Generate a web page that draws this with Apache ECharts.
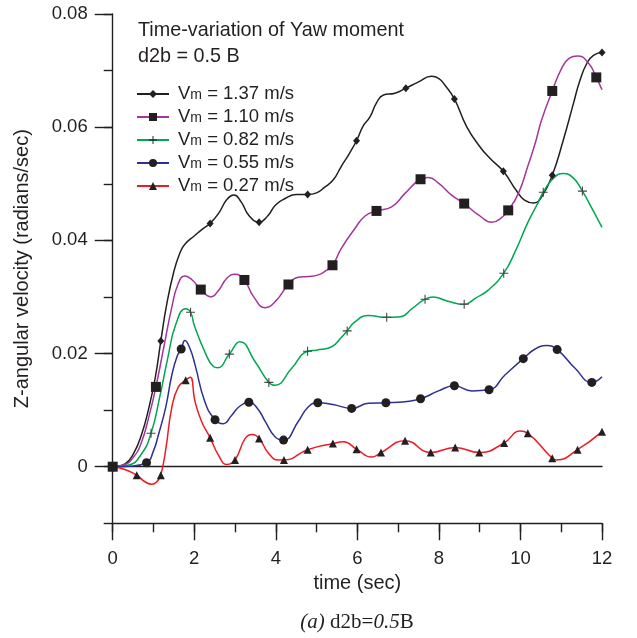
<!DOCTYPE html>
<html>
<head>
<meta charset="utf-8">
<script src="https://cdn.jsdelivr.net/npm/echarts@6/dist/echarts.min.js"></script>
<style>
  html, body { margin: 0; padding: 0; background: #fff; }
  #chart { width: 637px; height: 638px; }
</style>
</head>
<body>
<div id="chart"></div>
<script>
// legend labels
const seriesNames = ['Vm = 1.37 m/s', 'Vm = 1.10 m/s', 'Vm = 0.82 m/s', 'Vm = 0.55 m/s', 'Vm = 0.27 m/s'];
const xTicks = [0, 2, 4, 6, 8, 10, 12];
const yTicks = [0, 0.02, 0.04, 0.06, 0.08];

// curves, [time (sec), angular velocity]
const v137Curve = [[0,0],[0.3,0.0005],[0.5,0.0022],[0.7,0.0055],[0.9,0.0108],[1.05,0.016],[1.18,0.0222],[1.32,0.0285],[1.5,0.0345],[1.65,0.0378],[1.77,0.0393],[2.02,0.0409],[2.2,0.042],[2.39,0.043],[2.6,0.0448],[2.8,0.0472],[2.98,0.048],[3.15,0.0468],[3.35,0.0443],[3.59,0.0432],[3.8,0.0443],[4.0,0.0463],[4.23,0.0474],[4.5,0.0481],[4.78,0.0481],[5.0,0.0484],[5.2,0.0494],[5.41,0.0507],[5.6,0.053],[5.8,0.0553],[5.98,0.0576],[6.15,0.0603],[6.31,0.0618],[6.47,0.0643],[6.64,0.0657],[6.92,0.066],[7.19,0.0669],[7.5,0.068],[7.82,0.069],[8.0,0.0686],[8.15,0.0674],[8.38,0.065],[8.68,0.0601],[9.01,0.0565],[9.25,0.0545],[9.58,0.0522],[9.9,0.0488],[10.1,0.0471],[10.32,0.0466],[10.52,0.0477],[10.78,0.0515],[11.05,0.0577],[11.3,0.0642],[11.46,0.0683],[11.63,0.0713],[11.79,0.0727],[12,0.0732]];
const v110Curve = [[0,0],[0.3,0.0004],[0.5,0.0016],[0.7,0.0042],[0.9,0.0092],[1.06,0.0141],[1.25,0.021],[1.45,0.0282],[1.6,0.0322],[1.77,0.0337],[1.95,0.033],[2.16,0.0313],[2.41,0.03],[2.6,0.0312],[2.8,0.0333],[3.0,0.034],[3.23,0.033],[3.45,0.0301],[3.74,0.0281],[4.0,0.0293],[4.31,0.0322],[4.55,0.0335],[4.8,0.0336],[5.04,0.0339],[5.2,0.0345],[5.39,0.0356],[5.6,0.0385],[5.94,0.0421],[6.19,0.0443],[6.47,0.0452],[6.84,0.0459],[7.17,0.0483],[7.55,0.0508],[7.74,0.0511],[7.99,0.0501],[8.31,0.048],[8.62,0.0465],[8.97,0.0445],[9.3,0.0432],[9.5,0.0438],[9.7,0.0453],[9.95,0.0483],[10.19,0.0533],[10.36,0.0571],[10.52,0.0613],[10.78,0.0664],[11.01,0.0704],[11.2,0.0722],[11.4,0.0726],[11.67,0.0713],[11.86,0.0688],[12,0.0666]];
const v082Curve = [[0,0],[0.4,0.0003],[0.7,0.0022],[0.94,0.0059],[1.15,0.0122],[1.35,0.0192],[1.55,0.0252],[1.79,0.0279],[1.91,0.0273],[2.0,0.025],[2.26,0.0203],[2.47,0.0177],[2.57,0.0175],[2.86,0.0199],[3.12,0.0221],[3.49,0.0186],[3.83,0.0149],[3.98,0.0144],[4.39,0.0174],[4.78,0.0204],[5.0,0.0206],[5.37,0.0212],[5.6,0.0228],[5.75,0.024],[5.94,0.0256],[6.27,0.0267],[6.72,0.0264],[7.05,0.0265],[7.35,0.028],[7.66,0.0296],[7.86,0.03],[8.2,0.0293],[8.62,0.0287],[8.9,0.0298],[9.21,0.0312],[9.59,0.0342],[9.87,0.038],[10.19,0.0433],[10.4,0.0462],[10.56,0.0485],[10.81,0.051],[11.05,0.0518],[11.3,0.051],[11.52,0.0487],[11.75,0.0457],[12,0.0423]];
const v055Curve = [[0,0],[0.4,0.0001],[0.83,0.0007],[1.0,0.0028],[1.12,0.0056],[1.3,0.0105],[1.45,0.0162],[1.58,0.0195],[1.68,0.0208],[1.77,0.0223],[1.9,0.0208],[2.02,0.018],[2.26,0.0115],[2.51,0.0083],[2.71,0.0076],[2.92,0.0091],[3.1,0.0106],[3.34,0.0114],[3.55,0.0103],[3.74,0.008],[3.98,0.0053],[4.19,0.0047],[4.55,0.008],[4.8,0.0106],[5.03,0.0113],[5.4,0.011],[5.86,0.0103],[6.27,0.0112],[6.7,0.0113],[7.17,0.0115],[7.55,0.012],[7.99,0.0134],[8.38,0.0143],[8.81,0.0134],[9.23,0.0136],[9.62,0.0162],[10.07,0.0191],[10.36,0.0208],[10.64,0.0214],[10.9,0.0207],[11.34,0.0174],[11.75,0.0149],[12,0.0159]];
const v027Curve = [[0,0],[0.3,-0.0005],[0.59,-0.0015],[0.8,-0.0027],[0.96,-0.0031],[1.1,-0.0025],[1.18,-0.0015],[1.3,0.003],[1.45,0.0105],[1.61,0.0141],[1.79,0.0153],[1.9,0.0158],[2.02,0.0115],[2.18,0.008],[2.39,0.0051],[2.59,0.0021],[2.8,0.0004],[3.0,0.0012],[3.25,0.005],[3.41,0.0057],[3.59,0.005],[3.82,0.0024],[4.06,0.0012],[4.2,0.0012],[4.78,0.003],[5.4,0.0041],[5.66,0.0044],[5.98,0.0031],[6.35,0.0017],[6.58,0.0025],[7.17,0.0046],[7.8,0.0025],[8.4,0.0034],[8.99,0.0025],[9.6,0.0042],[9.99,0.0063],[10.18,0.0059],[10.78,0.0015],[10.89,0.0012],[11.4,0.003],[12,0.0062]];

// plotted markers
const v137Marks = [[0,0],[1.18,0.0222],[2.39,0.043],[3.59,0.0432],[4.78,0.0481],[5.98,0.0576],[7.19,0.0669],[8.38,0.065],[9.58,0.0522],[10.78,0.0515],[12,0.0732]];
const v110Marks = [[0,0],[1.06,0.0141],[2.16,0.0313],[3.23,0.033],[4.31,0.0322],[5.39,0.0356],[6.47,0.0452],[7.55,0.0508],[8.62,0.0465],[9.7,0.0453],[10.78,0.0664],[11.86,0.0688]];
const v082Marks = [[0,0],[0.94,0.0059],[1.91,0.0273],[2.86,0.0199],[3.83,0.0149],[4.78,0.0204],[5.75,0.024],[6.72,0.0264],[7.66,0.0296],[8.62,0.0287],[9.59,0.0342],[10.56,0.0485],[11.52,0.0487]];
const v055Marks = [[0,0],[0.83,0.0007],[1.68,0.0208],[2.51,0.0083],[3.34,0.0114],[4.19,0.0047],[5.03,0.0113],[5.86,0.0103],[6.7,0.0113],[7.55,0.012],[8.38,0.0143],[9.23,0.0136],[10.07,0.0191],[10.9,0.0207],[11.75,0.0149]];
const v027Marks = [[0,0],[0.59,-0.0015],[1.18,-0.0015],[1.79,0.0153],[2.39,0.0051],[3.0,0.0012],[3.59,0.005],[4.2,0.0012],[4.78,0.003],[5.4,0.0041],[5.98,0.0031],[6.58,0.0025],[7.17,0.0046],[7.8,0.0025],[8.4,0.0034],[8.99,0.0025],[9.6,0.0042],[10.18,0.0059],[10.78,0.0015],[11.4,0.003],[12,0.0062]];

const curves = [v137Curve, v110Curve, v082Curve, v055Curve, v027Curve];
const marks = [v137Marks, v110Marks, v082Marks, v055Marks, v027Marks];

const plus = 'path://M4.4,0h1.2v4.4h4.4v1.2h-4.4v4.4h-1.2v-4.4h-4.4v-1.2h4.4z';
const lineColors = ['#231f20', '#a3369a', '#00a651', '#2e3192', '#ed1c24'];
const symbols = ['diamond', 'rect', plus, 'circle', 'triangle'];
const symbolSizes = [[7, 8], 10, 9, 9, 8];
const ink = '#231f20';
const sans = '"Liberation Sans", Arial, Helvetica, sans-serif';
const serif = '"Liberation Serif", "Times New Roman", serif';

const chart = echarts.init(document.getElementById('chart'));

const lineSeries = seriesNames.map((name, i) => ({
  name: name,
  type: 'line',
  xAxisIndex: 0,
  yAxisIndex: 0,
  data: curves[i],
  smooth: 0.5,
  showSymbol: false,
  symbol: symbols[i],
  itemStyle: { color: ink },
  lineStyle: { color: lineColors[i], width: 1.5 },
  silent: true,
  z: 2
}));

const markSeries = seriesNames.map((name, i) => ({
  name: 'marks' + i,
  type: 'scatter',
  xAxisIndex: 0,
  yAxisIndex: 0,
  data: marks[i],
  symbol: symbols[i],
  symbolSize: symbolSizes[i],
  itemStyle: { color: i === 2 ? '#444' : ink, opacity: 1 },
  silent: true,
  z: 3
}));

const legends = seriesNames.map((name, i) => ({
  data: [name],
  left: 136,
  top: 84.5 + i * 23,
  orient: 'vertical',
  padding: 0,
  itemWidth: 32,
  itemHeight: 10,
  selectedMode: false,
  formatter: n => '{v|V}{s|m}{t|' + n.slice(2) + '}',
  textStyle: {
    color: ink,
    fontFamily: sans,
    rich: {
      v: { fontSize: 18.5, fontFamily: sans, color: ink, padding: [0, 0, 0, 4] },
      s: { fontSize: 14, fontFamily: sans, color: ink, padding: [3, 0, 0, 0] },
      t: { fontSize: 18.5, fontFamily: sans, color: ink }
    }
  }
}));

chart.setOption({
  animation: false,
  backgroundColor: '#fff',
  grid: [
    { left: 112.7, top: 14, width: 489.3, height: 509.3 },
    { left: 112.7, top: 14, width: 489.3, height: 452.7 }
  ],
  legend: legends,
  xAxis: [
    {
      type: 'value', gridIndex: 0, min: 0, max: 12, interval: 1,
      axisLine: { onZero: false, lineStyle: { color: ink, width: 1.4 } },
      axisTick: { length: 9, lineStyle: { color: ink, width: 1.4 } },
      axisLabel: { show: false },
      splitLine: { show: false }
    },
    {
      type: 'value', gridIndex: 0, min: xTicks[0], max: xTicks[xTicks.length - 1], interval: 2, position: 'bottom',
      axisLine: { show: false, onZero: false },
      axisTick: { length: 17, lineStyle: { color: ink, width: 1.4 } },
      axisLabel: { fontSize: 18.5, fontFamily: sans, color: ink, margin: 26 },
      splitLine: { show: false },
      name: 'time (sec)', nameLocation: 'middle', nameGap: 50,
      nameTextStyle: { fontSize: 20, fontFamily: sans, color: ink }
    },
    {
      type: 'value', gridIndex: 1, min: 0, max: 12,
      axisLine: { onZero: false, lineStyle: { color: ink, width: 1.4 } },
      axisTick: { show: false },
      axisLabel: { show: false },
      splitLine: { show: false }
    }
  ],
  yAxis: [
    {
      type: 'value', gridIndex: 0, min: -0.01, max: 0.08, interval: 0.01,
      axisLine: { show: true, onZero: false, lineStyle: { color: ink, width: 1.4 } },
      axisTick: { show: true, length: 9, lineStyle: { color: ink, width: 1.4 } },
      axisLabel: { show: false },
      splitLine: { show: false },
      name: 'Z-angular velocity (radians/sec)', nameLocation: 'middle', nameGap: 80,
      nameTextStyle: { fontSize: 20, fontFamily: sans, color: ink }
    },
    {
      type: 'value', gridIndex: 1, min: yTicks[0], max: yTicks[yTicks.length - 1], interval: 0.02,
      axisLine: { show: false, onZero: false },
      axisTick: { show: true, length: 18, lineStyle: { color: ink, width: 1.4 } },
      axisLabel: {
        fontSize: 18.5, fontFamily: sans, color: ink, margin: 25,
        formatter: v => (v === 0 ? '0' : v.toFixed(2))
      },
      splitLine: { show: false }
    }
  ],
  graphic: [
    {
      type: 'text', left: 138, top: 21,
      style: { text: 'Time-variation of Yaw moment', font: '19.8px ' + sans, fill: ink }
    },
    {
      type: 'text', left: 138, top: 47,
      style: { text: 'd2b = 0.5 B', font: '19.8px ' + sans, fill: ink }
    },
    {
      type: 'text', x: 357, y: 622,
      style: {
        text: '{i|(a)} {n|d2b=}{i|0.5}{n|B}',
        align: 'center', verticalAlign: 'middle',
        rich: {
          i: { fontFamily: serif, fontStyle: 'italic', fontSize: 21, fill: ink },
          n: { fontFamily: serif, fontSize: 21, fill: ink }
        },
        font: '21px ' + serif, fill: ink
      }
    }
  ],
  series: lineSeries.concat(markSeries)
});
</script>
</body>
</html>
